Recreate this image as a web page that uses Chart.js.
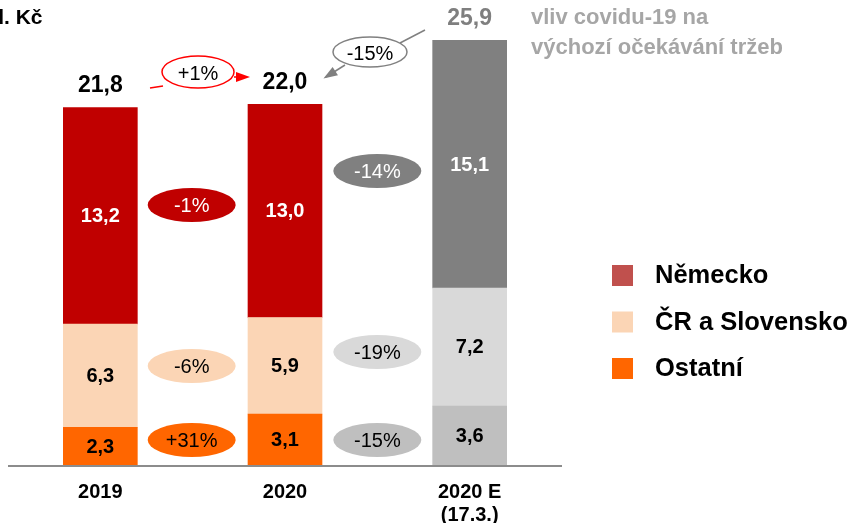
<!DOCTYPE html>
<html>
<head>
<meta charset="utf-8">
<script src="https://cdn.jsdelivr.net/npm/chart.js@4"></script>
<style>
  html, body { margin: 0; padding: 0; background: #fff; }
  #wrap { width: 851px; height: 523px; }
</style>
</head>
<body>
<div id="wrap"><canvas id="chart" width="851" height="523"></canvas></div>
<script>
const categories = ["2019", "2020", "2020 E"];
const categorySub = ["", "", "(17.3.)"];

const nemecko = [13.2, 13.0, 15.1];
const crSlovensko = [6.3, 5.9, 7.2];
const ostatni = [2.3, 3.1, 3.6];

// change between columns: [2019 -> 2020, 2020 -> 2020 E]
const changeNemecko = ["-1%", "-14%"];
const changeCr = ["-6%", "-19%"];
const changeOstatni = ["+31%", "-15%"];
const changeTotal = ["+1%", "-15%"];

const seriesNames = ["Německo", "ČR a Slovensko", "Ostatní"];
const legendColors = ["#C0504D", "#FBD5B5", "#FF6600"];

const FONT = "'Liberation Sans', Arial, sans-serif";

function fmt(v) {
  return v.toFixed(1).replace(".", ",");
}

function ellipse(ctx, x, y, rx, ry, fill, stroke) {
  ctx.beginPath();
  ctx.ellipse(x, y, rx, ry, 0, 0, Math.PI * 2);
  if (fill) {
    ctx.fillStyle = fill;
    ctx.fill();
  }
  if (stroke) {
    ctx.strokeStyle = stroke;
    ctx.lineWidth = 1.5;
    ctx.stroke();
  }
}

function line(ctx, x1, y1, x2, y2, color) {
  ctx.strokeStyle = color;
  ctx.lineWidth = 1.5;
  ctx.beginPath();
  ctx.moveTo(x1, y1);
  ctx.lineTo(x2, y2);
  ctx.stroke();
}

function arrow(ctx, x1, y1, x2, y2, color) {
  line(ctx, x1, y1, x2, y2, color);
  ctx.fillStyle = color;
  let a = Math.atan2(y2 - y1, x2 - x1);
  let len = 11, w = 5;
  ctx.beginPath();
  ctx.moveTo(x2 + Math.cos(a) * 3, y2 + Math.sin(a) * 3);
  ctx.lineTo(x2 - Math.cos(a) * len + Math.sin(a) * w, y2 - Math.sin(a) * len - Math.cos(a) * w);
  ctx.lineTo(x2 - Math.cos(a) * len - Math.sin(a) * w, y2 - Math.sin(a) * len + Math.cos(a) * w);
  ctx.closePath();
  ctx.fill();
}

function text(ctx, str, x, y, size, color, bold, align) {
  ctx.font = (bold ? "bold " : "") + size + "px " + FONT;
  ctx.fillStyle = color;
  ctx.textAlign = align || "center";
  ctx.textBaseline = "middle";
  ctx.fillText(str, x, y);
}

const annotations = {
  id: "annotations",
  afterDatasetsDraw(chart) {
    const ctx = chart.ctx;
    const area = chart.chartArea;
    const x = chart.scales.x;
    ctx.save();

    // base line
    ctx.strokeStyle = "#8C8C8C";
    ctx.lineWidth = 2;
    ctx.beginPath();
    ctx.moveTo(area.left, area.bottom + 1);
    ctx.lineTo(area.right, area.bottom + 1);
    ctx.stroke();

    // values inside segments
    chart.data.datasets.forEach((ds, di) => {
      const meta = chart.getDatasetMeta(di);
      meta.data.forEach((bar, i) => {
        let cy = (bar.y + bar.base) / 2;
        let white = (ds.label === seriesNames[0]);
        text(ctx, fmt(ds.data[i]), bar.x, cy + 1, 20, white ? "#fff" : "#000", true);
      });
    });

    // totals above bars
    const top = chart.getDatasetMeta(chart.data.datasets.length - 1).data;
    categories.forEach((c, i) => {
      let total = nemecko[i] + crSlovensko[i] + ostatni[i];
      let color = i === 2 ? "#7F7F7F" : "#000";
      text(ctx, fmt(total), top[i].x, top[i].y - 22, 23, color, true);
    });

    // category labels
    categories.forEach((c, i) => {
      let px = x.getPixelForValue(i);
      text(ctx, c, px, area.bottom + 27, 20, "#000", true);
      if (categorySub[i]) {
        text(ctx, categorySub[i], px, area.bottom + 50, 20, "#000", true);
      }
    });

    // change ellipses between columns
    const mids = [
      (x.getPixelForValue(0) + x.getPixelForValue(1)) / 2,
      (x.getPixelForValue(1) + x.getPixelForValue(2)) / 2,
    ];
    const rowsY = [[205, 171], [366, 352], [440, 440]];
    const fills = [["#C00000", "#808080"], ["#FBD5B5", "#D9D9D9"], ["#FF6600", "#BFBFBF"]];
    const txtColors = [["#fff", "#fff"], ["#000", "#000"], ["#000", "#000"]];
    const labels = [changeNemecko, changeCr, changeOstatni];
    labels.forEach((row, r) => {
      row.forEach((lbl, k) => {
        let cx = mids[k] - (k === 0 ? 1 : 0);
        ellipse(ctx, cx, rowsY[r][k], 44, 17, fills[r][k]);
        text(ctx, lbl, cx, rowsY[r][k] + 1, 20, txtColors[r][k], false);
      });
    });

    // total change: 2019 -> 2020
    line(ctx, 150, 88, 163, 86, "#FF0000");
    ellipse(ctx, 198, 72, 36, 16, "#fff", "#FF0000");
    text(ctx, changeTotal[0], 198, 74, 20, "#000", false);
    arrow(ctx, 234, 77, 247, 77, "#FF0000");

    // total change: 2020 E -> 2020
    line(ctx, 425, 30, 400, 43, "#808080");
    arrow(ctx, 345, 65, 326, 77, "#808080");
    ellipse(ctx, 370, 52, 37, 15, "#fff", "#808080");
    text(ctx, changeTotal[1], 370, 54, 20, "#000", false);

    // unit (cut at the left edge, as in the slide)
    text(ctx, "mld", 4, 18, 21, "#000", true, "right");
    text(ctx, ". Kč", 4, 18, 21, "#000", true, "left");

    // covid note
    text(ctx, "vliv covidu-19 na", 531, 18, 22, "#A6A6A6", true, "left");
    text(ctx, "výchozí očekávání tržeb", 531, 48, 22, "#A6A6A6", true, "left");

    // legend
    seriesNames.forEach((name, i) => {
      let ly = 275 + i * 46.5;
      ctx.fillStyle = legendColors[i];
      ctx.fillRect(612, ly - 10, 21, 21);
      text(ctx, name, 655, ly + 1, 25.5, "#000", true, "left");
    });

    ctx.restore();
  },
};

new Chart(document.getElementById("chart"), {
  type: "bar",
  data: {
    labels: categories,
    datasets: [
      {
        label: seriesNames[2],
        data: ostatni,
        backgroundColor: ["#FF6600", "#FF6600", "#BFBFBF"],
      },
      {
        label: seriesNames[1],
        data: crSlovensko,
        backgroundColor: ["#FBD5B5", "#FBD5B5", "#D9D9D9"],
      },
      {
        label: seriesNames[0],
        data: nemecko,
        backgroundColor: ["#C00000", "#C00000", "#808080"],
      },
    ],
  },
  options: {
    responsive: false,
    animation: false,
    layout: {
      padding: { left: 8, right: 289, top: 6, bottom: 58 },
    },
    datasets: {
      bar: { barThickness: 74, borderWidth: 0 },
    },
    scales: {
      x: { stacked: true, display: false },
      y: { stacked: true, display: false, min: 0, max: 28 },
    },
    plugins: {
      legend: { display: false },
      tooltip: { enabled: false },
    },
  },
  plugins: [annotations],
});
</script>
</body>
</html>
